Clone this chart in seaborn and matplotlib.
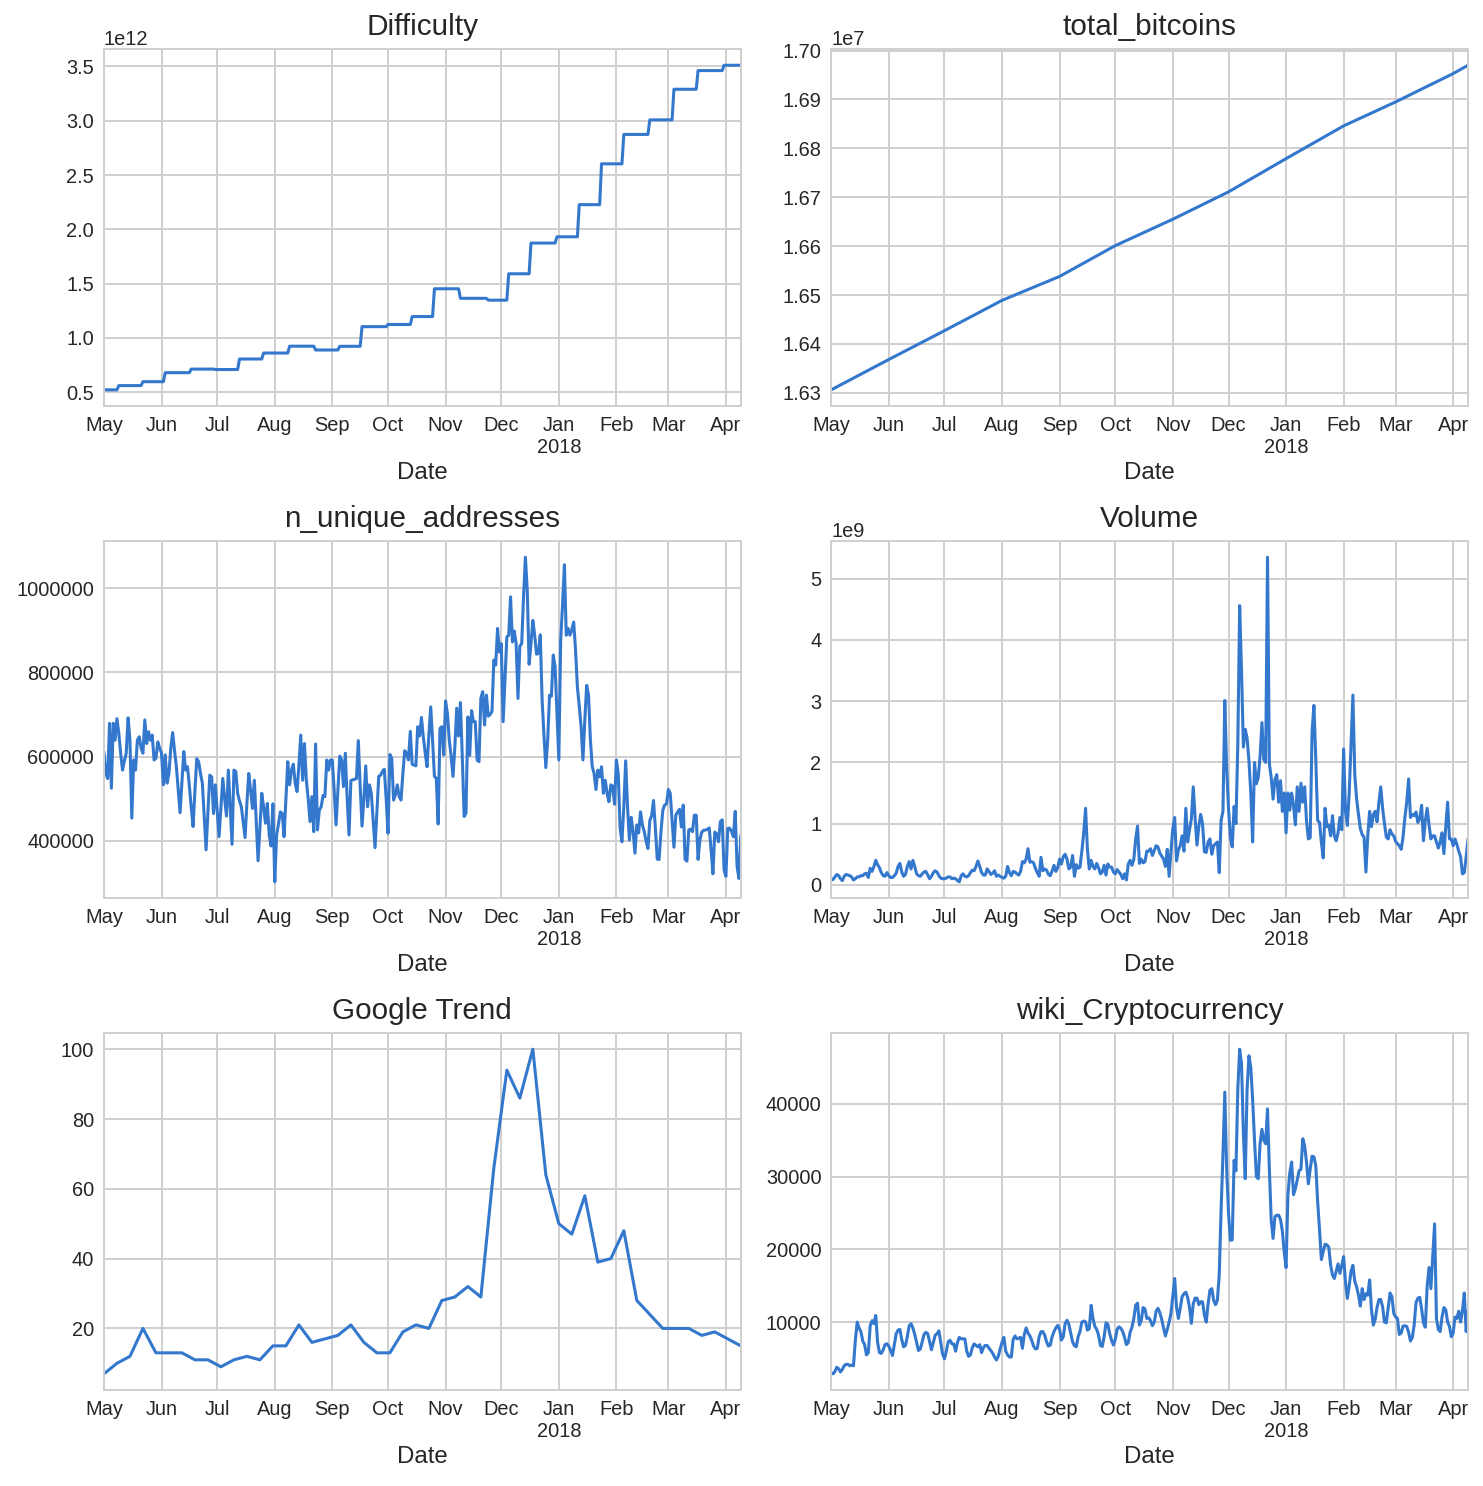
import numpy as np
import pandas as pd
import matplotlib
matplotlib.use("Agg")
import matplotlib.pyplot as plt
from matplotlib.ticker import ScalarFormatter
import seaborn as sns

# --- data (daily, 2017-05-01 .. 2018-04-09) ---
start_date = "2017-05-01"
end_date = "2018-04-09"

# difficulty: day offset of each retarget and the new level (x1e12)
difficulty_days = [0, 8, 21, 33, 47, 60, 73, 86, 100, 114, 127, 139, 153, 166,
                   178, 192, 207, 218, 230, 244, 256, 268, 280, 294, 307, 320, 334, 343]
difficulty_e12 = [0.521, 0.560, 0.596, 0.679, 0.712, 0.708, 0.805, 0.860, 0.923, 0.888,
                  0.922, 1.103, 1.123, 1.196, 1.452, 1.364, 1.347, 1.590, 1.873, 1.931,
                  2.227, 2.603, 2.874, 3.008, 3.290, 3.462, 3.511, 3.511]

# total bitcoins at month starts (+ last day)
btc_dates = ["2017-05-01", "2017-06-01", "2017-07-01", "2017-08-01", "2017-09-01",
             "2017-10-01", "2017-11-01", "2017-12-01", "2018-01-01", "2018-02-01",
             "2018-03-01", "2018-04-01", "2018-04-09"]
total_btc = [16306000, 16368000, 16427000, 16489000, 16538000, 16601000, 16655000,
             16711000, 16779000, 16846000, 16895000, 16953000, 16970000]

# unique addresses, thousands
n_unique_k = [
    611, 560, 548, 679, 525, 679, 639, 690, 655, 608,
    568, 590, 608, 692, 639, 454, 592, 568, 639, 647,
    620, 608, 687, 631, 659, 639, 651, 592, 596, 635,
    620, 608, 533, 604, 537, 560, 620, 657, 615, 576,
    520, 467, 540, 612, 568, 576, 530, 480, 434, 520,
    595, 588, 560, 537, 460, 379, 470, 556, 552, 465,
    533, 470, 410, 480, 548, 500, 459, 568, 480, 392,
    568, 565, 513, 495, 481, 445, 408, 490, 560, 520,
    477, 544, 450, 353, 430, 513, 480, 442, 489, 414,
    388, 488, 303, 414, 440, 469, 465, 410, 500, 588,
    533, 568, 582, 537, 517, 580, 651, 544, 631, 544,
    500, 446, 505, 422, 630, 426, 473, 481, 508, 505,
    592, 568, 592, 592, 520, 438, 520, 601, 592, 529,
    608, 500, 414, 543, 545, 546, 548, 638, 530, 435,
    500, 578, 481, 533, 513, 450, 384, 470, 553, 556,
    565, 570, 500, 418, 605, 596, 497, 510, 533, 505,
    497, 560, 614, 608, 592, 660, 582, 580, 578, 671,
    649, 693, 647, 610, 576, 650, 718, 639, 553, 549,
    440, 667, 671, 604, 732, 702, 639, 600, 553, 623,
    715, 649, 728, 600, 458, 466, 694, 603, 709, 683,
    683, 592, 588, 738, 754, 675, 746, 696, 700, 707,
    829, 817, 904, 848, 868, 683, 781, 884, 888, 979,
    872, 898, 868, 738, 862, 868, 980, 1073, 994, 819,
    868, 923, 888, 843, 845, 889, 734, 650, 574, 639,
    746, 743, 841, 813, 700, 592, 876, 960, 1055, 888,
    904, 888, 901, 919, 853, 765, 720, 671, 592, 687,
    769, 746, 640, 576, 560, 522, 568, 552, 576, 513,
    544, 513, 493, 533, 530, 487, 592, 560, 430, 398,
    481, 590, 481, 402, 456, 422, 371, 438, 419, 469,
    438, 422, 400, 382, 448, 460, 496, 430, 357, 356,
    420, 473, 485, 488, 522, 513, 450, 385, 461, 469,
    475, 433, 485, 356, 352, 426, 428, 422, 461, 461,
    356, 403, 421, 425, 426, 427, 431, 380, 322, 421,
    417, 398, 446, 450, 331, 316, 430, 430, 423, 410,
    470, 340, 311, 413,
]

# trading volume, billions
volume_bn = [
    0.08, 0.09, 0.13, 0.17, 0.15, 0.10, 0.07, 0.14, 0.17, 0.16,
    0.15, 0.13, 0.08, 0.10, 0.13, 0.13, 0.15, 0.15, 0.18, 0.19,
    0.12, 0.27, 0.22, 0.30, 0.40, 0.33, 0.28, 0.20, 0.15, 0.14,
    0.20, 0.15, 0.12, 0.12, 0.15, 0.19, 0.30, 0.35, 0.21, 0.14,
    0.17, 0.30, 0.38, 0.26, 0.40, 0.30, 0.18, 0.15, 0.14, 0.18,
    0.21, 0.22, 0.16, 0.10, 0.14, 0.20, 0.23, 0.21, 0.15, 0.11,
    0.10, 0.10, 0.11, 0.13, 0.13, 0.10, 0.11, 0.10, 0.07, 0.05,
    0.15, 0.18, 0.14, 0.13, 0.15, 0.20, 0.24, 0.23, 0.30, 0.39,
    0.30, 0.20, 0.16, 0.16, 0.26, 0.22, 0.17, 0.19, 0.23, 0.14,
    0.16, 0.14, 0.12, 0.11, 0.14, 0.30, 0.20, 0.15, 0.22, 0.21,
    0.18, 0.16, 0.22, 0.38, 0.36, 0.42, 0.59, 0.37, 0.38, 0.36,
    0.27, 0.20, 0.14, 0.45, 0.23, 0.26, 0.24, 0.17, 0.15, 0.23,
    0.32, 0.22, 0.28, 0.42, 0.34, 0.46, 0.50, 0.42, 0.26, 0.29,
    0.48, 0.14, 0.33, 0.27, 0.29, 0.55, 0.85, 1.25, 0.58, 0.26,
    0.40, 0.30, 0.26, 0.35, 0.28, 0.18, 0.21, 0.32, 0.16, 0.34,
    0.29, 0.29, 0.21, 0.18, 0.25, 0.21, 0.17, 0.10, 0.18, 0.08,
    0.34, 0.40, 0.32, 0.42, 0.75, 0.96, 0.35, 0.42, 0.36, 0.38,
    0.55, 0.55, 0.59, 0.48, 0.56, 0.64, 0.62, 0.52, 0.47, 0.42,
    0.30, 0.58, 0.14, 0.55, 0.92, 1.10, 0.39, 0.57, 0.64, 0.80,
    0.55, 1.25, 0.70, 0.90, 1.08, 1.60, 1.10, 0.65, 0.95, 1.15,
    1.00, 0.54, 0.53, 0.70, 0.75, 0.50, 0.64, 0.67, 0.70, 0.20,
    1.05, 1.20, 3.01, 1.90, 1.25, 0.78, 0.62, 1.28, 1.00, 2.30,
    4.56, 3.50, 2.25, 2.54, 2.40, 2.03, 1.50, 0.70, 2.00, 1.65,
    1.75, 2.10, 2.65, 2.05, 2.00, 5.35, 1.98, 1.75, 1.40, 1.72,
    1.80, 1.35, 1.70, 1.20, 1.50, 0.85, 1.50, 1.22, 1.50, 1.30,
    0.98, 1.60, 1.20, 1.66, 1.35, 1.60, 1.05, 0.75, 0.77, 2.50,
    2.93, 2.06, 1.05, 1.02, 0.70, 0.44, 1.25, 0.95, 0.98, 0.80,
    1.13, 0.80, 0.72, 0.85, 1.10, 0.90, 2.22, 1.20, 0.97, 1.50,
    2.30, 3.10, 1.80, 1.40, 1.15, 0.92, 0.82, 0.78, 0.21, 0.80,
    1.20, 0.95, 1.15, 1.20, 1.03, 1.35, 1.60, 1.25, 1.00, 0.78,
    0.75, 0.90, 0.83, 0.80, 0.71, 0.67, 0.64, 0.58, 0.78, 1.10,
    1.35, 1.73, 1.10, 1.15, 1.13, 1.19, 1.02, 1.08, 1.30, 0.72,
    1.05, 1.25, 0.98, 0.75, 0.80, 0.80, 0.70, 0.60, 0.70, 0.85,
    0.51, 0.95, 1.35, 0.75, 0.75, 0.64, 0.75, 0.66, 0.55, 0.46,
    0.18, 0.20, 0.46, 0.75,
]

# google trend, weekly (Mondays)
google_trend = [7, 10, 12, 20, 13, 13, 13, 11, 11, 9,
                11, 12, 11, 15, 15, 21, 16, 17, 18, 21,
                16, 13, 13, 19, 21, 20, 28, 29, 32, 29,
                66, 94, 86, 100, 64, 50, 47, 58, 39, 40,
                48, 28, 24, 20, 20, 20, 18, 19, 17, 15]

# wikipedia page views for "Cryptocurrency"
wiki_views = [
    3000, 2900, 3200, 3800, 3600, 3150, 3500, 4000, 4200, 4200,
    4000, 4100, 4000, 7500, 10000, 9200, 8700, 7400, 6900, 5500,
    5800, 9500, 10200, 9800, 10900, 7200, 5800, 5700, 6200, 6900,
    7020, 6700, 6100, 5420, 6900, 8400, 8900, 9000, 7600, 6600,
    6800, 8000, 9500, 9770, 9200, 8300, 7200, 6100, 6300, 7300,
    8300, 8600, 8400, 7300, 6200, 7200, 8200, 8400, 8800, 7200,
    5600, 4960, 6000, 7300, 7500, 7020, 7000, 6000, 7200, 7900,
    7700, 7700, 7700, 6000, 5300, 5500, 6500, 7000, 6800, 6600,
    6900, 5800, 6500, 6800, 6790, 6400, 6100, 5700, 5200, 4800,
    5300, 6300, 7200, 7900, 6000, 5500, 5200, 5200, 7600, 8100,
    7700, 7800, 7900, 6400, 8300, 9200, 8500, 8100, 7500, 6700,
    6300, 6400, 8000, 8675, 8700, 8200, 7300, 6700, 6850, 7990,
    8700, 9200, 9550, 9000, 7530, 7990, 9800, 10250, 9700, 8500,
    7300, 6750, 6620, 7990, 8700, 10000, 10150, 10040, 8900, 9100,
    12300, 10500, 9400, 9000, 8200, 6800, 6650, 7990, 9900, 9700,
    8400, 7500, 6850, 7600, 9000, 9350, 9150, 8700, 7900, 6900,
    7200, 8600, 9300, 10500, 12330, 12600, 9600, 10200, 12000, 11800,
    10500, 10600, 10200, 9500, 10000, 11500, 11900, 11300, 10400, 9200,
    8100, 9000, 10000, 11200, 13600, 16000, 12000, 10500, 11900, 13500,
    13900, 14100, 13400, 12000, 9820, 12500, 13300, 13300, 12400, 12800,
    12800, 11000, 10000, 12500, 14400, 14600, 13000, 12400, 13000, 16500,
    25400, 33000, 41600, 31000, 25000, 21250, 21300, 32230, 30800, 42000,
    47500, 45500, 36000, 29710, 42000, 46600, 45000, 40500, 35000, 30000,
    29710, 34500, 36500, 35000, 34500, 39300, 31000, 24000, 21500, 24500,
    24680, 24700, 24100, 22500, 19600, 17500, 27500, 30500, 32000, 27500,
    28300, 29500, 30800, 31000, 35200, 34200, 32000, 29000, 31000, 32800,
    32700, 31500, 26600, 22800, 18600, 19700, 20700, 20600, 20300, 17800,
    16450, 16000, 17000, 18000, 16700, 17800, 19000, 15500, 13250, 15000,
    17000, 17800, 15600, 14850, 13700, 12200, 14600, 13100, 13900, 13700,
    15800, 11700, 9590, 10400, 12000, 13100, 13100, 12100, 10000, 9900,
    12000, 14000, 13500, 11200, 10700, 10500, 8300, 8500, 9450, 9500,
    9400, 8600, 7400, 7900, 9590, 12700, 13300, 13400, 11800, 9900,
    9300, 15000, 17500, 14600, 19000, 23500, 10500, 9000, 8700, 10700,
    12000, 11700, 10000, 9400, 8000, 8500, 10700, 10500, 11500, 10000,
    11600, 14000, 8700, 11500,
]

# --- build frames ---
days = pd.date_range(start_date, end_date, freq="D")
weeks = pd.date_range(start_date, end_date, freq="7D")
daily = pd.DataFrame({
    "Date": days,
    "n_unique_addresses": np.array(n_unique_k) * 1000,
    "Volume": np.array(volume_bn) * 1e9,
    "wiki_Cryptocurrency": wiki_views,
})

# difficulty is daily data: hold each level until the day before the next retarget
d_days, d_vals = [], []
for i, (d, v) in enumerate(zip(difficulty_days, difficulty_e12)):
    d_days.append(d)
    d_vals.append(v)
    if i + 1 < len(difficulty_days) and difficulty_days[i + 1] - 1 > d:
        d_days.append(difficulty_days[i + 1] - 1)
        d_vals.append(v)
diff_df = pd.DataFrame({
    "Date": pd.Timestamp(start_date) + pd.to_timedelta(d_days, unit="D"),
    "Difficulty": np.array(d_vals) * 1e12,
})
btc_df = pd.DataFrame({"Date": pd.to_datetime(btc_dates), "total_bitcoins": total_btc})
trend_df = pd.DataFrame({"Date": weeks, "Google Trend": google_trend})

# --- style ---
sns.set_style("whitegrid", {"grid.color": "#cfcfcf", "axes.edgecolor": "#cfcfcf"})
plt.rcParams["font.family"] = ["Liberation Sans", "DejaVu Sans"]
plt.rcParams["xtick.labelsize"] = 14.4
plt.rcParams["ytick.labelsize"] = 14.4
plt.rcParams["axes.labelsize"] = 17.3
plt.rcParams["axes.titlesize"] = 21.4
plt.rcParams["grid.linewidth"] = 1.4
plt.rcParams["axes.linewidth"] = 1.4
line_color = "#3478ce"

fig, axes = plt.subplots(3, 2, figsize=(14.83, 14.86), dpi=100)
fig.subplots_adjust(left=0.0701, right=0.9899, top=0.967, bottom=0.0646,
                    wspace=0.142, hspace=0.378)

panels = [
    (axes[0, 0], diff_df, "Difficulty"),
    (axes[0, 1], btc_df, "total_bitcoins"),
    (axes[1, 0], daily, "n_unique_addresses"),
    (axes[1, 1], daily, "Volume"),
    (axes[2, 0], trend_df, "Google Trend"),
    (axes[2, 1], daily, "wiki_Cryptocurrency"),
]

month_ticks = pd.date_range("2017-05-01", "2018-04-01", freq="MS")
month_labels = [d.strftime("%b") + ("\n2018" if d.month == 1 else "") for d in month_ticks]

for ax, df, col in panels:
    sns.lineplot(data=df, x="Date", y=col, ax=ax, color=line_color, linewidth=2.2)
    ax.set_title(col, pad=10)
    ax.set_ylabel("")
    ax.set_xlabel("Date")
    ax.set_xlim(days[0], days[-1])
    ax.set_xticks(month_ticks)
    ax.set_xticklabels(month_labels)
    for s in ax.spines.values():
        s.set_visible(True)

fmt = ScalarFormatter(useOffset=False)
fmt.set_scientific(False)
axes[1, 0].yaxis.set_major_formatter(fmt)

fig.savefig("out.png", dpi=100)
